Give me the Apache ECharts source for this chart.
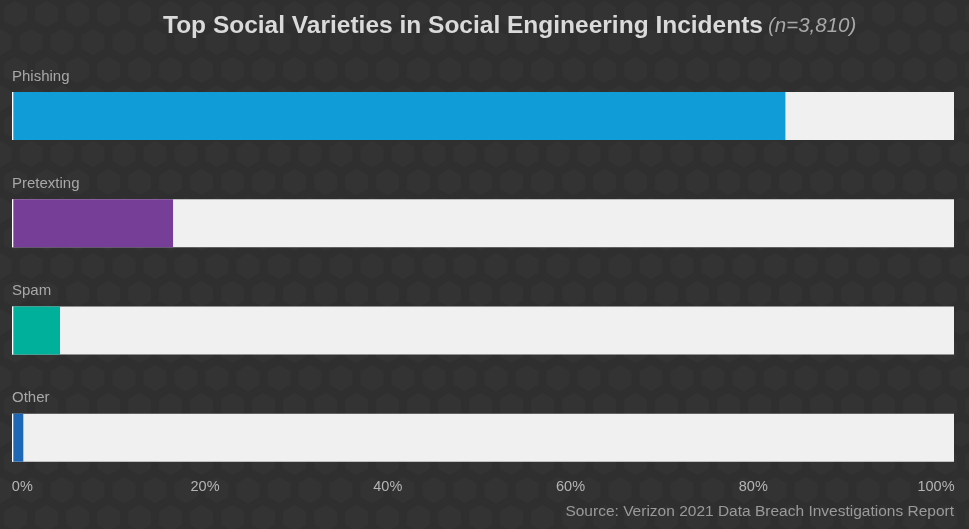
<!DOCTYPE html>
<html>
<head>
<meta charset="utf-8">
<script src="https://cdn.jsdelivr.net/npm/echarts@6/dist/echarts.min.js"></script>
<style>
  html, body { margin: 0; padding: 0; }
  body {
    width: 969px; height: 529px; overflow: hidden;
    background-color: #2f2f2f;
    background-image: url("data:image/svg+xml;utf8,<svg xmlns='http://www.w3.org/2000/svg' width='31' height='56' viewBox='0 0 31 56'><g fill='%23333333'><polygon points='15.5,1 26.8,7.5 26.8,20.5 15.5,27 4.2,20.5 4.2,7.5'/><polygon points='0,29 11.3,35.5 11.3,48.5 0,55 -11.3,48.5 -11.3,35.5'/><polygon points='31,29 42.3,35.5 42.3,48.5 31,55 19.7,48.5 19.7,35.5'/></g></svg>");
  }
  #chart { width: 969px; height: 529px; }
</style>
</head>
<body>
<div id="chart"></div>
<script>
const categories = ['Phishing', 'Pretexting', 'Spam', 'Other'];
const values = [82.1, 17.1, 5.1, 1.2];
const fullValues = [100, 100, 100, 100];
const tickValues = [0, 20, 40, 60, 80, 100];
const barColors = ['#109dd7', '#763e96', '#00b09b', '#1e67b4'];

const chart = echarts.init(document.getElementById('chart'), null, { renderer: 'canvas' });

const option = {
  backgroundColor: 'transparent',
  animation: false,
  title: [
    {
      left: 158,
      top: 9,
      text: '{a|Top Social Varieties in Social Engineering Incidents} {b|(n=3,810)}',
      textStyle: {
        rich: {
          a: { fontFamily: 'Liberation Sans, Arial, sans-serif', fontWeight: 'bold', fontSize: 24.5, color: '#dadada' },
          b: { fontFamily: 'Liberation Sans, Arial, sans-serif', fontWeight: 'normal', fontStyle: 'italic', fontSize: 20.5, color: '#a8a8a8' }
        }
      }
    },
    {
      right: 10,
      bottom: 4,
      text: 'Source: Verizon 2021 Data Breach Investigations Report',
      textStyle: { fontFamily: 'Liberation Sans, Arial, sans-serif', fontWeight: 'normal', fontSize: 15.5, color: '#9a9a9a' }
    }
  ],
  grid: { left: 12, right: 15, top: 62.3, bottom: 37.7, containLabel: false },
  xAxis: [
    {
      type: 'value', min: 0, max: 100,
      axisLine: { show: false }, axisTick: { show: false },
      axisLabel: { show: false }, splitLine: { show: false }
    },
    {
      type: 'value', min: -1.13, max: 101.97, position: 'bottom',
      axisLine: { show: false }, axisTick: { show: false }, splitLine: { show: false },
      axisLabel: {
        customValues: tickValues,
        formatter: '{value}%',
        margin: -12,
        fontFamily: 'Liberation Sans, Arial, sans-serif',
        fontSize: 14.5,
        color: '#b4b4b4'
      }
    }
  ],
  yAxis: {
    type: 'category', data: categories, inverse: true,
    axisLine: { show: false }, axisTick: { show: false },
    axisLabel: { show: false }, splitLine: { show: false }
  },
  series: [
    {
      name: 'Total', type: 'bar', data: fullValues, barWidth: 48, xAxisIndex: 0,
      itemStyle: { color: '#f0f0f0' },
      silent: true,
      label: {
        show: true, position: [0, -8], align: 'left', verticalAlign: 'bottom',
        formatter: '{b}',
        fontFamily: 'Liberation Sans, Arial, sans-serif', fontSize: 15, color: '#a8a8a8'
      },
      z: 1
    },
    {
      name: 'Share', type: 'bar', barWidth: 48, barGap: '-100%', xAxisIndex: 0,
      data: values.map((v, i) => ({ value: v, itemStyle: { color: barColors[i] } })),
      z: 2
    },
    {
      name: 'Edge', type: 'custom', xAxisIndex: 0, z: 3, silent: true,
      data: categories.map((c, i) => [0, i]),
      encode: { x: 0, y: 1 },
      renderItem: function (params, api) {
        const p = api.coord([api.value(0), api.value(1)]);
        return { type: 'rect', shape: { x: p[0], y: p[1] - 24, width: 1.3, height: 48 }, style: { fill: '#ffffff' } };
      }
    }
  ]
};
chart.setOption(option);
</script>
</body>
</html>
